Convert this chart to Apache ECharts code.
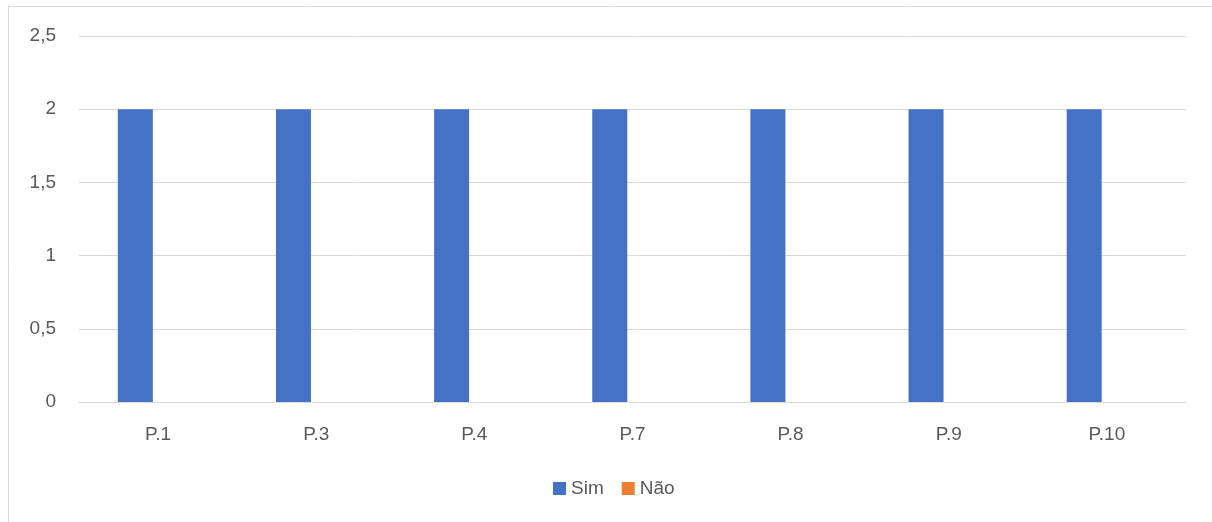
<!DOCTYPE html>
<html><head><meta charset="utf-8">
<script src="https://cdn.jsdelivr.net/npm/echarts@6/dist/echarts.min.js"></script>
<style>html,body{margin:0;padding:0;background:#fff}#c{width:1212px;height:522px}</style>
</head><body><div id="c"></div>
<script>
const categories = ['P.1','P.3','P.4','P.7','P.8','P.9','P.10'];
const simValues = [2,2,2,2,2,2,2];
const naoValues = [0,0,0,0,0,0,0];
const seriesNames = ['Sim','Não'];

const chart = echarts.init(document.getElementById('c'));
const font = '"Liberation Sans", "DejaVu Sans", sans-serif';
chart.setOption({
  animation:false,
  textStyle:{fontFamily:font},
  graphic:[{type:'rect',shape:{x:8.5,y:6.5,width:1220,height:530},style:{fill:'none',stroke:'#d9d9d9',lineWidth:1},silent:true}],
  grid:{left:79,right:26,top:36,bottom:120,containLabel:false},
  legend:{top:474,left:548,itemWidth:13,itemHeight:13,itemGap:18,
    icon:'rect',
    textStyle:{color:'#595959',fontSize:19,fontFamily:font},
    data:seriesNames},
  xAxis:{type:'category',data:categories,
    axisLine:{lineStyle:{color:'#d9d9d9',width:1}},axisTick:{show:false},
    axisLabel:{color:'#595959',fontSize:19,margin:23,fontFamily:font}},
  yAxis:{type:'value',min:0,max:2.5,interval:0.5,
    axisLine:{show:false},axisTick:{show:false},
    splitLine:{lineStyle:{color:'#d9d9d9',width:1}},
    axisLabel:{color:'#595959',fontSize:19,margin:23,fontFamily:font,
      formatter:v=>String(v).replace('.',',')}},
  series:[
    {name:seriesNames[0],type:'bar',data:simValues,barWidth:35,barGap:'30%',itemStyle:{color:'#4472c4'}},
    {name:seriesNames[1],type:'bar',data:naoValues,barWidth:35,barGap:'30%',itemStyle:{color:'#ed7d31'}}
  ]
});
</script></body></html>
